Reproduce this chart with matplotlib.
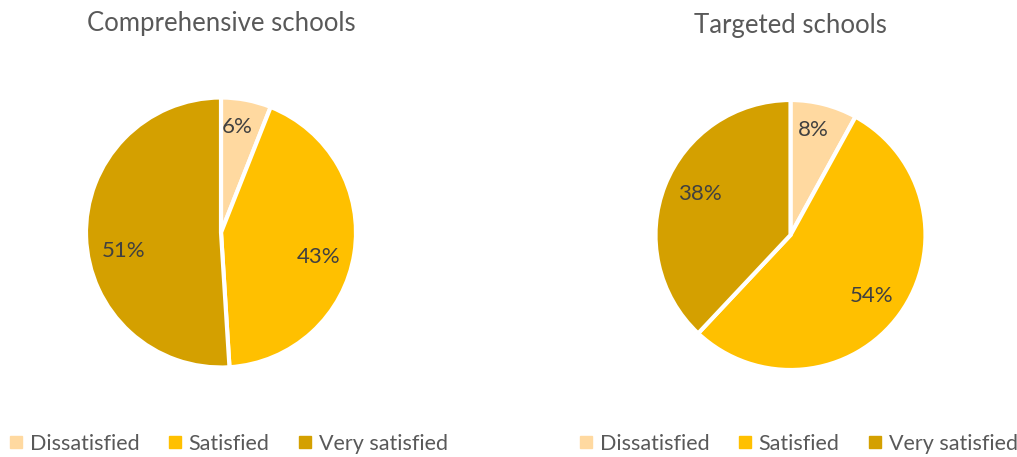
import matplotlib.pyplot as plt
from matplotlib.lines import Line2D

categories = ["Dissatisfied", "Satisfied", "Very satisfied"]
comprehensive = [6, 43, 51]
targeted = [8, 54, 38]
titles = ["Comprehensive schools", "Targeted schools"]

COLORS = ["#FFD9A0", "#FFC000", "#D4A000"]
TEXT = "#595959"
LABEL = "#404040"

# label anchors inside each pie, in units of the pie radius
LABEL_POS_1 = [(0.12, 0.78), (0.72, -0.18), (-0.72, -0.14)]
LABEL_POS_2 = [(0.17, 0.78), (0.60, -0.45), (-0.67, 0.30)]

plt.rcParams["font.family"] = ["Lato", "DejaVu Sans"]

W, H = 1017, 457
fig = plt.figure(figsize=(W / 100, H / 100), dpi=100)


def pie_panel(cx, cy, r, values, title, title_y, legend_x, label_pos):
    ax = fig.add_axes([(cx - r) / W, (H - cy - r) / H, 2 * r / W, 2 * r / H])
    wedges, _, autotexts = ax.pie(
        values, colors=COLORS, startangle=90, counterclock=False,
        autopct=lambda p: f"{p:.0f}%", pctdistance=0.75,
        wedgeprops=dict(edgecolor="white", linewidth=3),
        textprops=dict(color=LABEL, fontsize=16),
    )
    for t, pos in zip(autotexts, label_pos):
        t.set_position(pos)
    ax.set_xlim(-1, 1)
    ax.set_ylim(-1, 1)
    ax.set_aspect("equal")
    ax.axis("off")
    fig.text(cx / W, 1 - title_y / H, title, ha="center", va="center",
             fontsize=18.5, color=TEXT)
    handles = [Line2D([], [], marker="s", linestyle="none", markersize=9,
                      markerfacecolor=c, markeredgecolor=c) for c in COLORS]
    fig.legend(handles, categories, loc="center left",
               bbox_to_anchor=(legend_x / W, 1 - 444 / H), ncol=3, frameon=False,
               fontsize=15.5, labelcolor=TEXT, handletextpad=0.3,
               columnspacing=1.3, handlelength=0.7, borderaxespad=0,
               borderpad=0)


pie_panel(221, 232.5, 135, comprehensive, titles[0], 24, 8, LABEL_POS_1)
pie_panel(790.5, 235, 135, targeted, titles[1], 26, 578, LABEL_POS_2)

fig.savefig("out.png", dpi=100)
